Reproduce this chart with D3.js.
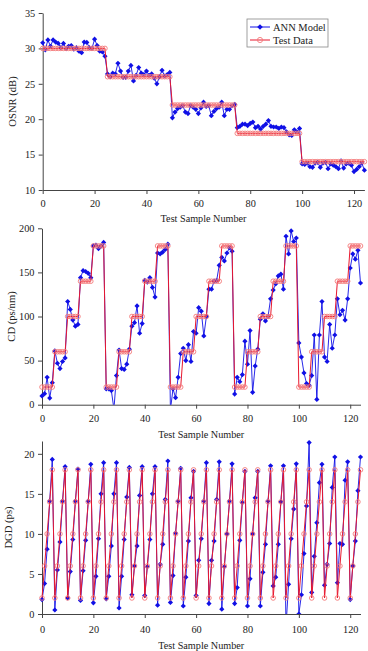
<!DOCTYPE html>
<html>
<head>
<meta charset="utf-8">
<script src="https://cdn.jsdelivr.net/npm/d3@7"></script>
<style>
  html, body { margin: 0; padding: 0; background: #fff; }
  svg { display: block; }
  text { font-family: "Liberation Serif", "Times New Roman", serif; fill: #222; }
</style>
</head>
<body>
<svg id="chart" width="368" height="651"></svg>
<script>
// ---------- DATA ----------
const xTickValues = [0, 20, 40, 60, 80, 100, 120];
const xLabel = "Test Sample Number";
const seriesNames = ["ANN Model", "Test Data"];

const osnrTicks = [10, 15, 20, 25, 30, 35];
const osnrTest = [
  30,30,30,30,30,30,30,30,30,30,30,30,30,30,30,30,30,30,30,30,30,30,30,30,30,
  26,26,26,26,26,26,26,26,26,26,26,26,26,26,26,26,26,26,26,26,26,26,26,26,26,
  22,22,22,22,22,22,22,22,22,22,22,22,22,22,22,22,22,22,22,22,22,22,22,22,22,
  18,18,18,18,18,18,18,18,18,18,18,18,18,18,18,18,18,18,18,18,18,18,18,18,18,
  14,14,14,14,14,14,14,14,14,14,14,14,14,14,14,14,14,14,14,14,14,14,14,14,14
];
const osnrANN = [
  30.8,29.8,31.2,30.3,31.2,30.9,30.7,30.1,30.7,29.95,30.3,30.4,29.9,30.1,29.6,29.4,30.9,30.85,30.1,30.0,31.3,30.4,29.6,29.5,28.9,
  26.4,26.0,26.5,26.4,27.9,26.8,25.9,25.9,26.8,27.6,25.4,26.2,27.3,26.5,26.3,26.8,26.2,26.4,25.8,25.0,26.0,26.9,26.1,26.3,26.6,
  20.2,21.0,21.5,21.7,21.9,21.0,20.8,21.9,21.7,21.4,20.8,21.6,22.4,21.8,21.9,20.5,21.1,21.5,21.7,22.4,20.5,21.4,21.4,21.9,22.1,
  18.8,19.0,19.3,19.3,19.1,19.4,19.6,18.8,19.0,18.6,19.0,19.3,19.8,19.0,18.9,18.9,18.7,18.9,18.8,18.2,17.8,17.7,18.5,18.2,18.7,
  13.7,13.6,13.8,13.3,13.2,13.8,13.9,13.2,13.8,13.9,13.0,13.7,13.5,13.3,13.0,14.1,13.1,13.7,13.8,13.5,12.6,12.9,13.3,13.8,12.8
];

const cdTicks = [0, 50, 100, 150, 200];
const cdTest = [
  20,20,20,20,20,60,60,60,60,60,100,100,100,100,100,140,140,140,140,140,180,180,180,180,180,
  20,20,20,20,20,60,60,60,60,60,100,100,100,100,100,140,140,140,140,140,180,180,180,180,180,
  20,20,20,20,20,60,60,60,60,60,100,100,100,100,100,140,140,140,140,140,180,180,180,180,180,
  20,20,20,20,20,60,60,60,60,60,100,100,100,100,100,140,140,140,140,140,180,180,180,180,180,
  20,20,20,20,20,60,60,60,60,60,100,100,100,100,100,140,140,140,140,140,180,180,180,180,180
];
const cdANN = [
  10,12.5,31,7.5,25,61,47,41,49,53,117,108,96,89,91,144,152,151,149,144,180,181,177,180,184,
  18,18,16,-5,33,62,41,40,46,63,89,93,112,81,92,141,139,144,133,122,172,171,173,176,182,
  -6,18,8,31,58,64,50,68,49,83,81,110,106,78,100,131,131,140,141,158,167,163,172,178,174,
  12,31,26,34,72,46,84,14,44,63,97,103,95,100,120,130,137,146,148,131,191,171,197,185,189,
  70,54,36,24,22,33,79,6,79,117,54,49,91,64,79,120,102,107,96,120,155,171,165,175,138
];

const dgdTicks = [0, 5, 10, 15, 20];
const dgdTest = [
  2,6,10,14,18, 2,6,10,14,18, 2,6,10,14,18, 2,6,10,14,18, 2,6,10,14,18,
  2,6,10,14,18, 2,6,10,14,18, 2,6,10,14,18, 2,6,10,14,18, 2,6,10,14,18,
  2,6,10,14,18, 2,6,10,14,18, 2,6,10,14,18, 2,6,10,14,18, 2,6,10,14,18,
  2,6,10,14,18, 2,6,10,14,18, 2,6,10,14,18, 2,6,10,14,18, 2,6,10,14,18,
  2,6,10,14,18, 2,6,10,14,18, 2,6,10,14,18, 2,6,10,14,18, 2,6,10,14,18
];
const dgdANN = [
  1.8,3.8,8.1,14.1,19.3, 0.5,5.5,9.0,14.1,18.4, 2.0,5.3,9.3,14.1,18.1, 1.7,5.4,9.2,14.1,18.7, 1.4,4.7,9.4,15.0,18.9,
  1.9,4.7,8.5,15.0,18.9, 0.75,4.7,9.3,14.6,18.3, 2.4,6.0,8.5,14.8,18.4, 2.3,5.9,9.3,15.0,18.4, 1.1,6.2,8.7,14.3,19.1,
  1.45,4.8,10.1,14.1,18.2, 1.0,4.6,9.1,14.5,17.8, 2.3,6.7,9.4,14.1,18.9, 1.3,6.7,9.1,14.3,19.0, 0.6,5.9,10.0,14.1,18.75,
  1.3,3.3,9.2,13.9,17.8, 1.0,4.4,10.0,14.5,17.8, 1.0,5.2,8.7,14.1,18.5, 3.5,4.6,8.7,14.0,18.5, -1.5,3.7,9.4,13.1,18.75,
  0.0,2.4,7.55,13.5,21.4, 2.7,7.2,11.4,16.4,18.7, 3.6,6.2,8.8,15.8,19.6, 3.9,8.8,8.7,16.7,19.0, 1.8,6.0,9.1,15.4,19.6
];

// ---------- STYLE / LAYOUT ----------
const annColor = "#1010e6";
const testLineColor = "#e8182e";
const testMarkerColor = "#f47a7a";
const axisColor = "#444";

const panels = [
  { id: "osnr", ann: osnrANN, test: osnrTest, yDomain: [10, 35], yTicks: osnrTicks,
    xRange: [42.7, 364.4], yRange: [190, 13], yLabel: "OSNR (dB)", yLabelX: 16,
    xTitleY: 222, tickOffset: 6, legend: true },
  { id: "cd", ann: cdANN, test: cdTest, yDomain: [0, 200], yTicks: cdTicks,
    xRange: [42, 360.5], yRange: [404.7, 228.3], yLabel: "CD (ps/nm)", yLabelX: 15,
    xTitleY: 438, tickOffset: 6, legend: false },
  { id: "dgd", ann: dgdANN, test: dgdTest, yDomain: [0, 21.6], yTicks: dgdTicks,
    xRange: [42, 360.5], yRange: [614, 441], yLabel: "DGD (ps)", yLabelX: 12,
    xTitleY: 649, tickOffset: 8, legend: false }
];

const svg = d3.select("#chart");
const defs = svg.append("defs");

function diamondPath(r) { return `M0,${-r}L${r},0L0,${r}L${-r},0Z`; }

panels.forEach((p, pi) => {
  const x = d3.scaleLinear().domain([0, 124]).range(p.xRange);
  const y = d3.scaleLinear().domain(p.yDomain).range(p.yRange);

  const clipId = "clip-" + p.id;
  defs.append("clipPath").attr("id", clipId)
    .append("rect")
    .attr("x", p.xRange[0] - 4).attr("y", p.yRange[1] - 4)
    .attr("width", p.xRange[1] - p.xRange[0] + 8)
    .attr("height", p.yRange[0] - p.yRange[1] + 4);

  const g = svg.append("g");

  // axes
  const xAxis = d3.axisBottom(x).tickValues(xTickValues).tickSizeInner(4).tickSizeOuter(0).tickPadding(p.tickOffset);
  const yAxis = d3.axisLeft(y).tickValues(p.yTicks).tickSizeInner(4).tickSizeOuter(0).tickPadding(3.5);

  const gx = g.append("g").attr("transform", `translate(0,${p.yRange[0]})`).call(xAxis);
  const gy = g.append("g").attr("transform", `translate(${p.xRange[0]},0)`).call(yAxis);
  [gx, gy].forEach(ax => {
    ax.selectAll("path.domain").attr("stroke", axisColor).attr("stroke-width", 1);
    ax.selectAll(".tick line").attr("stroke", axisColor);
    ax.selectAll(".tick text").attr("fill", "#222").style("font-size", "10.3px")
      .style("font-family", '"Liberation Serif", serif');
  });

  // axis titles
  g.append("text")
    .attr("x", (p.xRange[0] + p.xRange[1]) / 2)
    .attr("y", p.xTitleY)
    .attr("text-anchor", "middle")
    .style("font-size", "10.2px")
    .text(xLabel);
  g.append("text")
    .attr("transform", `translate(${p.yLabelX},${(p.yRange[0] + p.yRange[1]) / 2}) rotate(-90)`)
    .attr("text-anchor", "middle")
    .style("font-size", "10.6px")
    .text(p.yLabel);

  const plot = g.append("g").attr("clip-path", `url(#${clipId})`);
  const line = d3.line().x((d, i) => x(i)).y(d => y(d));

  // ANN model
  plot.append("path").datum(p.ann)
    .attr("d", line).attr("fill", "none")
    .attr("stroke", annColor).attr("stroke-width", 0.9);
  plot.selectAll("path.ann").data(p.ann).join("path")
    .attr("class", "ann")
    .attr("transform", (d, i) => `translate(${x(i)},${y(d)})`)
    .attr("d", diamondPath(2.6))
    .attr("fill", annColor);

  // Test data
  plot.append("path").datum(p.test)
    .attr("d", line).attr("fill", "none")
    .attr("stroke", testLineColor).attr("stroke-width", 1);
  plot.selectAll("circle.test").data(p.test).join("circle")
    .attr("class", "test")
    .attr("cx", (d, i) => x(i)).attr("cy", d => y(d))
    .attr("r", 2.3)
    .attr("fill", "none")
    .attr("stroke", testMarkerColor).attr("stroke-width", 0.9);

  if (p.legend) {
    const lg = svg.append("g").attr("transform", "translate(247,19)");
    lg.append("rect").attr("width", 81).attr("height", 28)
      .attr("fill", "#fff").attr("stroke", "#888").attr("stroke-width", 0.8);
    seriesNames.forEach((name, k) => {
      const yy = 8 + k * 13;
      const col = k === 0 ? annColor : testLineColor;
      lg.append("line").attr("x1", 3).attr("x2", 23).attr("y1", yy).attr("y2", yy)
        .attr("stroke", col).attr("stroke-width", 1);
      if (k === 0) {
        lg.append("path").attr("transform", `translate(13,${yy})`).attr("d", diamondPath(2.8)).attr("fill", annColor);
      } else {
        lg.append("circle").attr("cx", 13).attr("cy", yy).attr("r", 2.6)
          .attr("fill", "none").attr("stroke", testMarkerColor).attr("stroke-width", 0.9);
      }
      lg.append("text").attr("x", 26).attr("y", yy + 3.6)
        .style("font-size", "10.5px").text(name);
    });
  }
});
</script>
</body>
</html>
